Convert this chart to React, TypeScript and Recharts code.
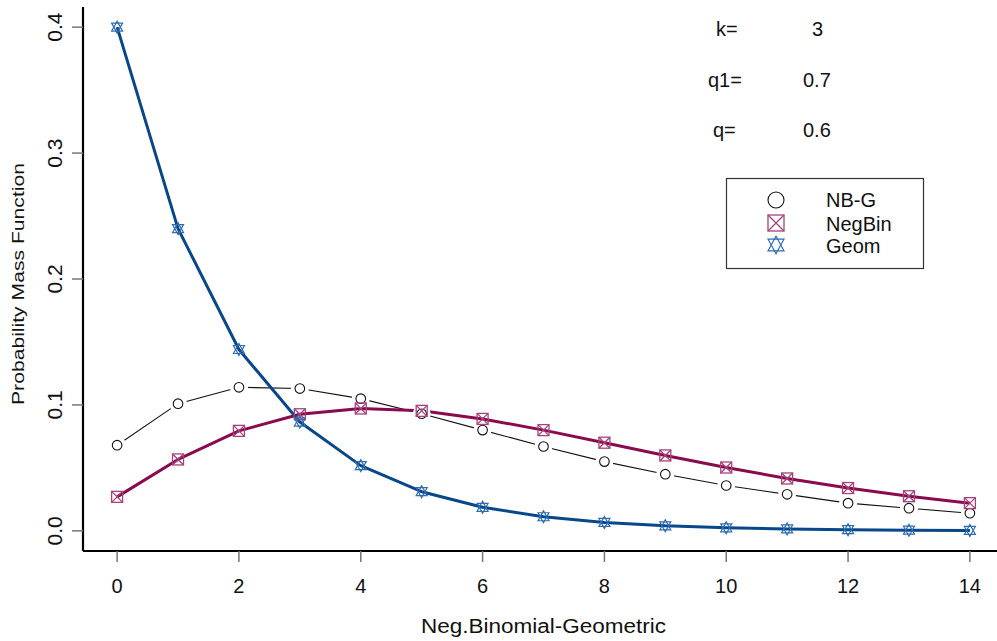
import React from 'react';
import { LineChart, Line, XAxis, YAxis, Legend, Label } from 'recharts';

const xValues = [0, 1, 2, 3, 4, 5, 6, 7, 8, 9, 10, 11, 12, 13, 14];
const nbgValues = [0.068, 0.101, 0.114, 0.113, 0.105, 0.093, 0.080, 0.067, 0.055, 0.045, 0.036, 0.029, 0.022, 0.018, 0.014];
const negBinValues = [0.027, 0.0567, 0.0794, 0.0926, 0.0972, 0.0953, 0.0889, 0.0800, 0.0700, 0.0599, 0.0503, 0.0416, 0.0340, 0.0275, 0.0220];
const geomValues = [0.4, 0.24, 0.144, 0.0864, 0.0518, 0.0311, 0.0187, 0.0112, 0.0067, 0.0040, 0.0024, 0.0015, 0.0009, 0.0005, 0.0003];
const xTicks = [0, 2, 4, 6, 8, 10, 12, 14];
const yTicks = [0, 0.1, 0.2, 0.3, 0.4];
const yTickLabels = ['0.0', '0.1', '0.2', '0.3', '0.4'];
const seriesNames = ['NB-G', 'NegBin', 'Geom'];
const paramLabels = ['k=', 'q1=', 'q='];
const paramValues = ['3', '0.7', '0.6'];
const xTitle = 'Neg.Binomial-Geometric';
const yTitle = 'Probability Mass Function';

const data = xValues.map((x, i) => ({
  x,
  nbg: nbgValues[i],
  negbin: negBinValues[i],
  geom: geomValues[i],
}));

const FONT = '"Liberation Sans", Arial, sans-serif';
const NEGBIN_LINE = '#8a0a4e';
const NEGBIN_MARK = '#a5447c';
const GEOM_LINE = '#08478a';
const GEOM_MARK = '#2f6cb2';

const CircleDot = (props: any) => {
  const { cx, cy } = props;
  if (cx == null || cy == null) return null;
  return (
    <g>
      <circle cx={cx} cy={cy} r={9} fill="#fff" stroke="none" />
      <circle cx={cx} cy={cy} r={4.8} fill="none" stroke="#111" strokeWidth={1.1} />
    </g>
  );
};

const SquareXDot = (props: any) => {
  const { cx, cy } = props;
  if (cx == null || cy == null) return null;
  const s = props.size || 5.5;
  return (
    <g stroke={NEGBIN_MARK} strokeWidth={1.3} fill="none">
      <rect x={cx - s} y={cy - s} width={2 * s} height={2 * s} />
      <line x1={cx - s} y1={cy - s} x2={cx + s} y2={cy + s} />
      <line x1={cx - s} y1={cy + s} x2={cx + s} y2={cy - s} />
    </g>
  );
};

const StarDot = (props: any) => {
  const { cx, cy } = props;
  if (cx == null || cy == null) return null;
  const k = props.scale || 1;
  const w = 5.5 * k, h = 6 * k, b = 4 * k;
  return (
    <g stroke={GEOM_MARK} strokeWidth={1.2} fill="none">
      <polygon points={`${cx},${cy - h} ${cx + w},${cy + b} ${cx - w},${cy + b}`} />
      <polygon points={`${cx},${cy + h} ${cx + w},${cy - b} ${cx - w},${cy - b}`} />
    </g>
  );
};

const XTick = (props: any) => {
  const { x, y, payload } = props;
  return (
    <text x={x} y={y + 29} textAnchor="middle" fontSize={20} fontFamily={FONT} fill="#111">
      {payload.value}
    </text>
  );
};

const YTick = (props: any) => {
  const { x, y, payload } = props;
  const idx = yTicks.findIndex((t) => Math.abs(t - payload.value) < 1e-9);
  const label = idx >= 0 ? yTickLabels[idx] : String(payload.value);
  const bx = x - 8;
  return (
    <text x={bx} y={y} transform={`rotate(-90, ${bx}, ${y})`} textAnchor="middle" fontSize={21} fontFamily={FONT} fill="#111">
      {label}
    </text>
  );
};

const XTitle = (props: any) => {
  const vb = props.viewBox || { x: 83, y: 551, width: 921, height: 90 };
  const cx = vb.x + vb.width / 2;
  return (
    <text x={cx} y={vb.y + 82} textAnchor="middle" fontSize={20} fontFamily={FONT} fill="#111" textLength={245} lengthAdjust="spacingAndGlyphs">
      {xTitle}
    </text>
  );
};

const YTitle = (props: any) => {
  const vb = props.viewBox || { x: 0, y: 7, width: 83, height: 544 };
  const cy = vb.y + vb.height / 2 + 5;
  const bx = 23.5;
  return (
    <text x={bx} y={cy} transform={`rotate(-90, ${bx}, ${cy})`} textAnchor="middle" fontSize={17} fontFamily={FONT} fill="#111" textLength={242} lengthAdjust="spacingAndGlyphs">
      {yTitle}
    </text>
  );
};

const LegendBox = () => {
  const symX = 50;
  const rows = [22, 45, 67];
  const textRows = [29, 53, 75];
  const symbols = [
    <circle key="c" cx={symX} cy={rows[0]} r={8} fill="none" stroke="#111" strokeWidth={1.1} />,
    <SquareXDot key="s" cx={symX} cy={rows[1]} size={8} />,
    <StarDot key="t" cx={symX} cy={rows[2]} scale={1.45} />,
  ];
  return (
    <svg width={200} height={93} style={{ display: 'block', overflow: 'visible' }}>
      <rect x={0.5} y={0.5} width={197} height={90} fill="#fff" stroke="#333" strokeWidth={1.2} />
      {symbols}
      {seriesNames.map((n, i) => (
        <text key={n} x={100} y={textRows[i]} fontSize={20} fontFamily={FONT} fill="#111">
          {n}
        </text>
      ))}
    </svg>
  );
};

export default function App() {
  return (
    <div style={{ position: 'absolute', left: 0, top: 0, width: 997, height: 641, overflow: 'hidden', background: '#fff' }}>
      <LineChart width={1010} height={641} data={data} margin={{ top: 7, right: 6, bottom: 0, left: 0 }}>
        <XAxis
          xAxisId="top"
          orientation="top"
          dataKey="x"
          type="number"
          domain={[-0.56, 14.56]}
          height={0}
          tick={false}
          tickLine={false}
          axisLine={{ stroke: '#777', strokeWidth: 1.2 }}
        />
        <XAxis
          dataKey="x"
          type="number"
          domain={[-0.56, 14.56]}
          ticks={xTicks}
          interval={0}
          height={90}
          tickSize={11}
          tickLine={{ stroke: '#777', strokeWidth: 1.5 }}
          axisLine={{ stroke: '#000', strokeWidth: 2.2 }}
          tick={<XTick />}
        >
          <Label content={<XTitle />} />
        </XAxis>
        <YAxis
          type="number"
          domain={[-0.016, 0.416]}
          ticks={yTicks}
          interval={0}
          width={83}
          tickSize={11}
          tickLine={{ stroke: '#777', strokeWidth: 1.5 }}
          axisLine={{ stroke: '#000', strokeWidth: 2.2 }}
          tick={<YTick />}
        >
          <Label content={<YTitle />} />
        </YAxis>
        <Legend
          layout="vertical"
          align="center"
          verticalAlign="middle"
          content={<LegendBox />}
          wrapperStyle={{ position: 'absolute', left: 726, top: 178, width: 200, height: 93 }}
        />
        <Line
          dataKey="nbg"
          name={seriesNames[0]}
          type="linear"
          stroke="#111"
          strokeWidth={1.1}
          dot={<CircleDot />}
          activeDot={false}
          isAnimationActive={false}
        />
        <Line
          dataKey="negbin"
          name={seriesNames[1]}
          type="linear"
          stroke={NEGBIN_LINE}
          strokeWidth={3}
          strokeLinejoin="round"
          dot={<SquareXDot />}
          activeDot={false}
          isAnimationActive={false}
        />
        <Line
          dataKey="geom"
          name={seriesNames[2]}
          type="linear"
          stroke={GEOM_LINE}
          strokeWidth={3}
          strokeLinejoin="round"
          dot={<StarDot />}
          activeDot={false}
          isAnimationActive={false}
        />
      </LineChart>
      <svg width={997} height={641} style={{ position: 'absolute', left: 0, top: 0, pointerEvents: 'none' }}>
        <text x={716} y={36} fontSize={20} fontFamily={FONT} fill="#111">{paramLabels[0]}</text>
        <text x={812} y={36} fontSize={20} fontFamily={FONT} fill="#111">{paramValues[0]}</text>
        <text x={708} y={87} fontSize={20} fontFamily={FONT} fill="#111">{paramLabels[1]}</text>
        <text x={803} y={87} fontSize={20} fontFamily={FONT} fill="#111">{paramValues[1]}</text>
        <text x={713} y={137} fontSize={20} fontFamily={FONT} fill="#111">{paramLabels[2]}</text>
        <text x={803} y={137} fontSize={20} fontFamily={FONT} fill="#111">{paramValues[2]}</text>
      </svg>
    </div>
  );
}
